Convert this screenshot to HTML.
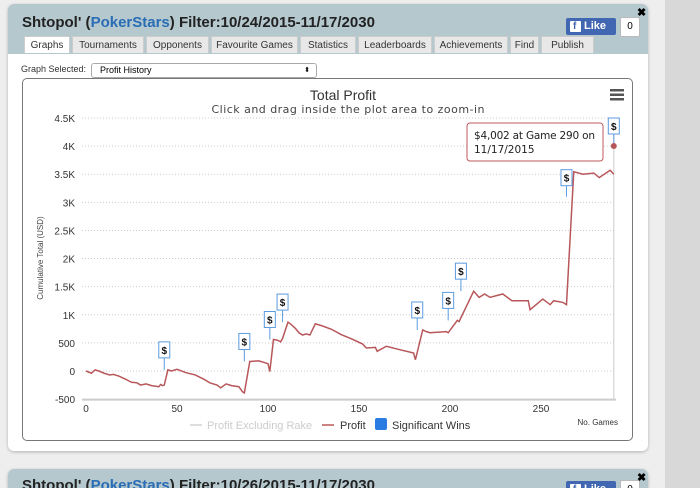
<!DOCTYPE html>
<html style="overflow:hidden;width:700px;height:488px"><head><meta charset="utf-8">
<style>
body{margin:0;width:700px;height:488px;overflow:hidden;background:#eeeeee;font-family:"Liberation Sans",sans-serif;position:relative}
.strip{position:absolute;left:665px;top:0;width:35px;height:488px;background:#d8d8d8}
.panel{position:absolute;left:8px;width:640px;background:#fff;border-radius:6px;box-shadow:0 1px 3px rgba(0,0,0,.25);overflow:hidden}
.hdr{background:#b4c8ce;height:50px;position:relative}
.title{position:absolute;left:14px;top:10px;font-size:15px;font-weight:bold;color:#222}
.title span{color:#2a6db5}
.like{position:absolute;left:558px;top:14px;width:50px;height:17px;background:#4267b2;border-radius:2px;color:#fff;font-size:11px;font-weight:bold;line-height:17px;text-indent:18px}
.like i{position:absolute;left:4px;top:3px;width:11px;height:11px;background:#fff;color:#4267b2;font-style:normal;font-size:10px;line-height:12px;text-indent:3px;border-radius:1px}
.cnt{position:absolute;left:612px;top:13px;width:18px;height:18px;background:#fff;border:1px solid #bbb;border-radius:2px;font-size:10px;text-align:center;line-height:18px}
.x{position:absolute;left:629px;top:2px;font-size:11px;font-weight:bold}
.tab{position:absolute;top:36px;height:17px;background:#e8e8e8;border:1px solid #ccc;border-bottom:none;font-size:10px;color:#333;text-align:center;line-height:17px;box-sizing:border-box}
.tab.on{background:#fff}
</style></head><body>
<div class="strip"></div>
<div class="panel" style="top:4px;height:447px">
 <div class="hdr">
  <div class="title">Shtopol' (<span>PokerStars</span>) Filter:10/24/2015-11/17/2030</div>
  <div class="like"><i>f</i>Like</div>
  <div class="cnt">0</div>
  <div class="x">✖</div>
 </div>
</div>
<div class="tab on" style="left:24px;width:46px">Graphs</div>
<div class="tab" style="left:72px;width:72px">Tournaments</div>
<div class="tab" style="left:146px;width:63px">Opponents</div>
<div class="tab" style="left:211px;width:87px">Favourite Games</div>
<div class="tab" style="left:300px;width:56px">Statistics</div>
<div class="tab" style="left:358px;width:74px">Leaderboards</div>
<div class="tab" style="left:434px;width:74px">Achievements</div>
<div class="tab" style="left:510px;width:29px">Find</div>
<div class="tab" style="left:541px;width:53px">Publish</div>
<div style="position:absolute;left:21px;top:64px;font-size:9px;color:#333">Graph Selected:</div>
<div style="position:absolute;left:91px;top:63px;width:224px;height:13px;border:1px solid #aaa;border-radius:3px;font-size:9px;line-height:13px;text-indent:8px;box-sizing:content-box;background:#fff">Profit History<span style="position:absolute;right:6px;font-size:7px">⬍</span></div>
<div style="position:absolute;left:22px;top:78px;width:611px;height:363px;border:1px solid #777;border-radius:5px;box-sizing:border-box;background:#fff"></div>
<div class="panel" style="top:469px;height:19px;border-radius:6px 6px 0 0">
 <div class="hdr" style="height:30px"><div class="title" style="top:8px">Shtopol' (<span>PokerStars</span>) Filter:10/26/2015-11/17/2030</div>
 <div class="like" style="top:12px"><i>f</i>Like</div><div class="cnt" style="top:11px">0</div><div class="x">✖</div></div>
</div>
<svg id="chart" width="700" height="488" style="position:absolute;left:0;top:0"></svg>
<script>
const xTicks=[0,50,100,150,200,250];
const yTicks=[-500,0,500,1000,1500,2000,2500,3000,3500,4000,4500];
const yTickLabels=["-500","0","500","1K","1.5K","2K","2.5K","3K","3.5K","4K","4.5K"];
const games=[0,3,5,7,10,13,15,18,22,25,28,30,33,36,40,41,42,43,45,47,50,55,60,65,68,72,74,77,80,84,86,87,90,95,100,101,103,105,107,108,111,113,115,117,119,121,123,126,130,135,140,146,152,154,159,160,165,171,180,181,185,187,189,198,199,204,205,213,216,219,222,229,234,243,244,251,255,257,262,264,268,273,279,282,288,290];
const profit=[0,-40,20,0,-40,-70,-60,-90,-150,-200,-210,-250,-230,-260,-280,-240,-260,-250,20,0,30,-30,-70,-150,-210,-250,-300,-230,-260,-280,-370,-390,170,180,130,-10,560,550,520,580,870,820,760,680,640,660,640,840,800,740,650,570,480,410,420,350,440,390,320,200,730,700,680,700,680,900,880,1420,1310,1370,1310,1370,1250,1250,1090,1280,1180,1250,1220,1180,3545,3500,3520,3440,3570,3500,4002];
const winGames=[43,87,101,108,182,199,206,264,290];
const winValues=[20,170,560,870,730,900,1420,3545,4002];
const X=g=>86+g*(541-86)/250;
const Y=v=>371-v*(371-118)/4500;
const svg=document.getElementById('chart');
const NS='http://www.w3.org/2000/svg';
function mk(t,a,txt){const e=document.createElementNS(NS,t);for(const k in a)e.setAttribute(k,a[k]);if(txt!==undefined)e.textContent=txt;svg.appendChild(e);return e;}
let e;
e=mk('text',{x:343,y:100,'text-anchor':'middle','font-size':14,fill:'#333','font-family':'Liberation Sans'},'Total Profit');


e=mk('text',{x:348,y:113,'text-anchor':'middle','font-size':11,fill:'#444','font-family':'DejaVu Sans','textLength':273},'Click and drag inside the plot area to zoom-in');


for(let i=0;i<3;i++){e=mk('rect',{x:610,y:89+i*4.5,width:14,height:2.5,fill:'#555'});}


yTicks.forEach((v,i)=>{
 if(v>-500){e=mk('line',{x1:82,x2:616,y1:Y(v),y2:Y(v),stroke:'#ccc','stroke-dasharray':'1,2'});
 
 }
 e=mk('text',{x:75,y:Y(v)+4,'text-anchor':'end','font-size':10,fill:'#333'},yTickLabels[i]);
 
 
});
e=mk('line',{x1:82,x2:616,y1:Y(-500)+0.5,y2:Y(-500)+0.5,stroke:'#ccc','stroke-width':2});


xTicks.forEach(g=>{
 e=mk('text',{x:X(g),y:412,'text-anchor':'middle','font-size':10,fill:'#333'},String(g));
 
 
});
e=mk('text',{x:0,y:0,transform:'translate(43,258) rotate(-90)','text-anchor':'middle','font-size':8,fill:'#444'},'Cumulative Total (USD)');


e=mk('text',{x:618,y:425,'text-anchor':'end','font-size':8,fill:'#333'},'No. Games');


e=mk('line',{x1:X(290),x2:X(290),y1:118,y2:399,stroke:'#ccc'});


e=mk('rect',{x:X(265)-5.5,y:143,width:11,height:16,fill:'#fff',stroke:'#cfe0f4'});


mk('text',{x:X(265),y:155,'text-anchor':'middle','font-size':10,'font-weight':'bold',fill:'#ddd'},'$');
e=mk('polyline',{points:games.map((g,i)=>X(g)+','+Y(profit[i])).join(' '),fill:'none',stroke:'#b8575a','stroke-width':1.5});


winGames.forEach((g,i)=>{
 const x=X(g),y=Y(winValues[i]);let top=y-28,stemEnd=y;
 if(i===7){top=y-2;stemEnd=y+25;}
 if(i===8){top=118;}
 e=mk('line',{x1:x,x2:x,y1:top+16,y2:stemEnd,stroke:'#5b9be0'});
 
 
 e=mk('rect',{x:x-5.5,y:top,width:11,height:16,fill:'#fff',stroke:'#5b9be0'});
 
 
 e=mk('text',{x:x,y:top+12,'text-anchor':'middle','font-size':10,'font-weight':'bold',fill:'#111'},'$');
});
e=mk('circle',{cx:X(290),cy:Y(4002),r:3,fill:'#b8575a'});


e=mk('rect',{x:467,y:123,width:136,height:38,rx:3,fill:'#fff',stroke:'#c0575a'});


mk('text',{x:474,y:139,'font-size':10.5,fill:'#222','font-family':'DejaVu Sans','textLength':121},'$4,002 at Game 290 on');
mk('text',{x:474,y:153,'font-size':10.5,fill:'#222','font-family':'DejaVu Sans'},'11/17/2015');
e=mk('line',{x1:190,x2:202,y1:425,y2:425,stroke:'#ddd','stroke-width':2});
e=mk('text',{x:207,y:429,'font-size':11,fill:'#ccc'},'Profit Excluding Rake');


e=mk('line',{x1:322,x2:334,y1:425,y2:425,stroke:'#c0575a','stroke-width':1.5});
e=mk('text',{x:340,y:429,'font-size':11,fill:'#333'},'Profit');


e=mk('rect',{x:375,y:418,width:12,height:12,rx:2,fill:'#2b7ce0'});
e=mk('text',{x:392,y:429,'font-size':11,fill:'#333'},'Significant Wins');


</script>
</body></html>
